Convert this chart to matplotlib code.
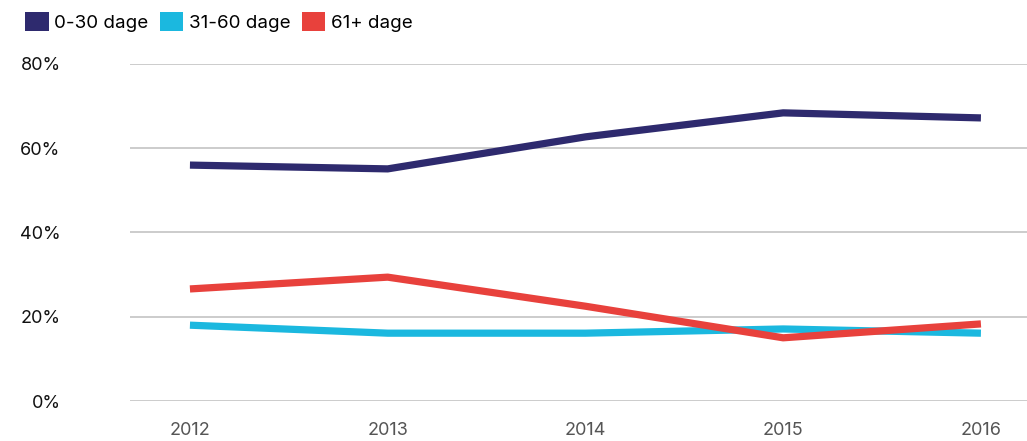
import matplotlib.pyplot as plt
from matplotlib.patches import Patch

years = [2012, 2013, 2014, 2015, 2016]
age_0_30 = [56.0, 55.1, 62.7, 68.4, 67.2]
age_31_60 = [18.0, 16.1, 16.1, 17.1, 16.1]
age_61_plus = [26.6, 29.4, 22.5, 15.0, 18.3]

labels = ["0-30 dage", "31-60 dage", "61+ dage"]
colors = ["#2e2a6e", "#1bb8df", "#e8413c"]

plt.rcParams["font.family"] = ["Inter", "DejaVu Sans"]

fig = plt.figure(figsize=(10.27, 4.41), dpi=100)
ax = fig.add_axes([0.1266, 0.0907, 0.8734, 0.7642])

for vals, col in zip([age_0_30, age_31_60, age_61_plus], colors):
    ax.plot(years, vals, color=col, linewidth=5.2, solid_capstyle="butt")

ax.set_xlim(2011.697, 2016.233)
ax.set_ylim(0, 80)
ax.set_yticks([0, 20, 40, 60, 80])
ax.set_yticklabels([f"{v}%" for v in [0, 20, 40, 60, 80]])
ax.set_xticks(years)
ax.grid(axis="y", color="#c8c8c8", linewidth=1.3)
ax.set_axisbelow(True)
for s in ax.spines.values():
    s.set_visible(False)
ax.tick_params(axis="y", length=0, pad=50, labelsize=13, labelcolor="#111111")
ax.tick_params(axis="x", length=0, pad=15, labelsize=13, labelcolor="#555555")

handles = [Patch(facecolor=c, edgecolor="none") for c in colors]
fig.legend(handles, labels, loc="upper left", bbox_to_anchor=(0.008, 1.012),
           ncol=3, frameon=False, fontsize=13.5, handlelength=1.25,
           handleheight=1.25, handletextpad=0.3, columnspacing=0.6)

fig.savefig("out.png", dpi=100)
